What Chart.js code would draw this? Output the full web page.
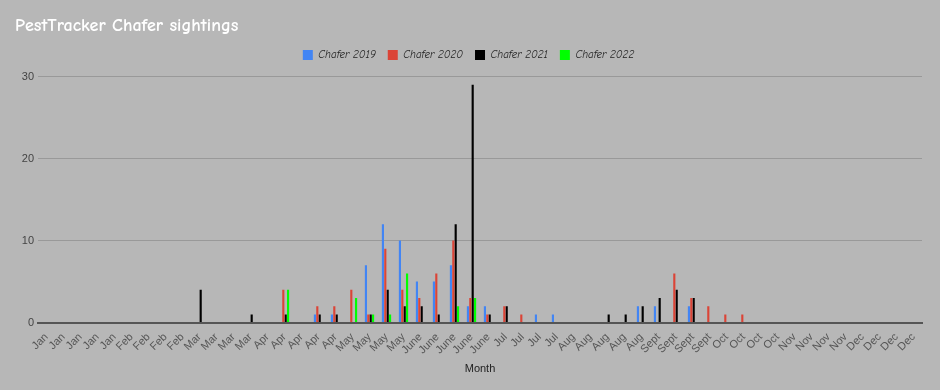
<!DOCTYPE html>
<html>
<head>
<meta charset="utf-8">
<script src="https://cdn.jsdelivr.net/npm/chart.js@4/dist/chart.umd.min.js"></script>
<style>
    html, body {
        margin: 0;
        padding: 0;
        background: #b7b7b7;
    }
    #wrap {
        position: relative;
        width: 940px;
        height: 390px;
    }
</style>
</head>
<body>
<div id="wrap">
    <canvas id="chart"></canvas>
</div>
<script>

const weeks = [
    "Jan", "Jan", "Jan", "Jan", "Jan",
    "Feb", "Feb", "Feb", "Feb",
    "Mar", "Mar", "Mar", "Mar",
    "Apr", "Apr", "Apr", "Apr", "Apr",
    "May", "May", "May", "May",
    "June", "June", "June", "June", "June",
    "Jul", "Jul", "Jul", "Jul",
    "Aug", "Aug", "Aug", "Aug", "Aug",
    "Sept", "Sept", "Sept", "Sept",
    "Oct", "Oct", "Oct", "Oct",
    "Nov", "Nov", "Nov", "Nov",
    "Dec", "Dec", "Dec", "Dec"
];

const chafer2019 = [
    0, 0, 0, 0, 0,
    0, 0, 0, 0,
    0, 0, 0, 0,
    0, 0, 0, 1, 1,
    0, 7, 12, 10,
    5, 5, 7, 2, 2,
    0, 0, 1, 1,
    0, 0, 0, 0, 2,
    2, 0, 2, 0,
    0, 0, 0, 0,
    0, 0, 0, 0,
    0, 0, 0, 0
];

const chafer2020 = [
    0, 0, 0, 0, 0,
    0, 0, 0, 0,
    0, 0, 0, 0,
    0, 4, 0, 2, 2,
    4, 1, 9, 4,
    3, 6, 10, 3, 1,
    2, 1, 0, 0,
    0, 0, 0, 0, 0,
    0, 6, 3, 2,
    1, 1, 0, 0,
    0, 0, 0, 0,
    0, 0, 0, 0
];

const chafer2021 = [
    0, 0, 0, 0, 0,
    0, 0, 0, 0,
    4, 0, 0, 1,
    0, 1, 0, 1, 1,
    0, 1, 4, 2,
    2, 1, 12, 29, 1,
    2, 0, 0, 0,
    0, 0, 1, 1, 2,
    3, 4, 3, 0,
    0, 0, 0, 0,
    0, 0, 0, 0,
    0, 0, 0, 0
];

const chafer2022 = [
    0, 0, 0, 0, 0,
    0, 0, 0, 0,
    0, 0, 0, 0,
    0, 4, 0, 0, 0,
    3, 1, 1, 6,
    0, 0, 2, 3, 0,
    0, 0, 0, 0,
    0, 0, 0, 0, 0,
    0, 0, 0, 0,
    0, 0, 0, 0,
    0, 0, 0, 0,
    0, 0, 0, 0
];

const comic = "'Comic Sans MS', 'Comic Neue', Lato, sans-serif";
const plain = "Arial, 'Liberation Sans', sans-serif";

function series(label, data, color) {
    return {
        label: label,
        data: data,
        backgroundColor: color,
        borderWidth: 0,
        categoryPercentage: 0.56,
        barPercentage: 0.9
    };
}

// a little extra room under the legend, like the original
const legendGap = {
    id: "legendGap",
    beforeInit(chart) {
        const fit = chart.legend.fit;
        chart.legend.fit = function() {
            fit.bind(this)();
            this.height += 6;
        };
    }
};

new Chart(document.getElementById("chart"), {

    type: "bar",

    data: {
        labels: weeks,
        datasets: [
            series("Chafer 2019", chafer2019, "#4285f4"),
            series("Chafer 2020", chafer2020, "#db4437"),
            series("Chafer 2021", chafer2021, "#000000"),
            series("Chafer 2022", chafer2022, "#00ff00")
        ]
    },

    plugins: [legendGap],

    options: {

        responsive: true,
        maintainAspectRatio: false,
        animation: false,

        layout: {
            padding: {
                left: 15,
                right: 18,
                top: 0,
                bottom: 14
            }
        },

        plugins: {

            title: {
                display: true,
                text: "PestTracker Chafer sightings",
                align: "start",
                color: "#ffffff",
                font: {
                    family: comic,
                    size: 18,
                    weight: "bold"
                },
                padding: {
                    top: 15,
                    bottom: 1
                }
            },

            legend: {
                position: "top",
                labels: {
                    boxWidth: 10,
                    boxHeight: 10,
                    padding: 12,
                    color: "#222222",
                    font: {
                        family: comic,
                        size: 11,
                        style: "italic"
                    }
                }
            },

            tooltip: {
                enabled: false
            }
        },

        scales: {

            x: {
                grid: {
                    display: false
                },
                border: {
                    display: true,
                    color: "#555555",
                    width: 2
                },
                ticks: {
                    autoSkip: false,
                    minRotation: 45,
                    maxRotation: 45,
                    color: "#555555",
                    padding: 0,
                    font: {
                        family: plain,
                        size: 11
                    }
                },
                title: {
                    display: true,
                    text: "Month",
                    color: "#222222",
                    padding: {
                        top: 6,
                        bottom: 0
                    },
                    font: {
                        family: plain,
                        size: 11
                    }
                }
            },

            y: {
                min: 0,
                max: 30,
                ticks: {
                    stepSize: 10,
                    color: "#444444",
                    padding: 4,
                    font: {
                        family: plain,
                        size: 11
                    }
                },
                grid: {
                    drawTicks: false,
                    color: "#999999",
                    lineWidth: 1
                },
                border: {
                    display: false
                },
                afterFit: function(scale) {
                    scale.width = 23;
                }
            }
        }
    }
});

</script>
</body>
</html>
